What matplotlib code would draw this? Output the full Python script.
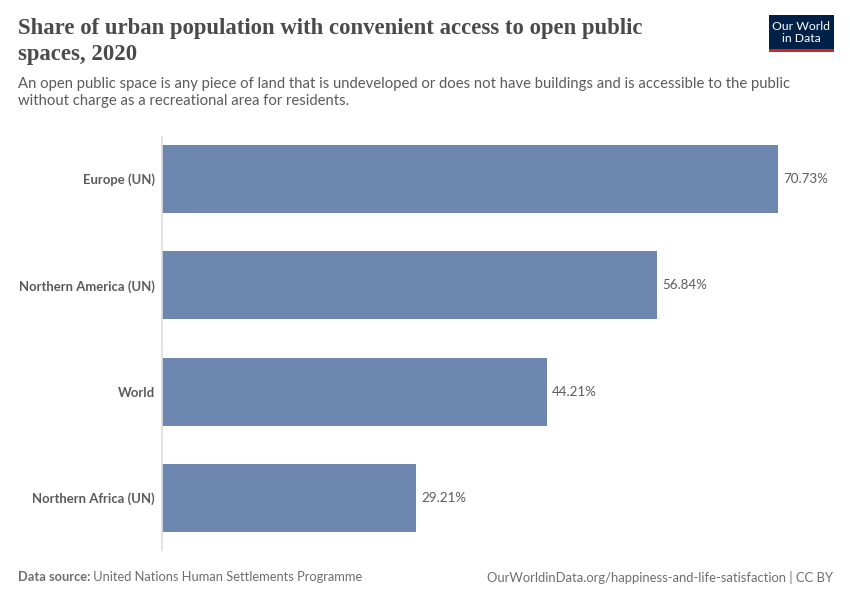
import matplotlib
matplotlib.use('Agg')
import matplotlib.pyplot as plt
from matplotlib.patches import Rectangle

# ---------------------------------------------------------------------------
# Data
# ---------------------------------------------------------------------------
regions = ['Europe (UN)', 'Northern America (UN)', 'World', 'Northern Africa (UN)']
shares = [70.73, 56.84, 44.21, 29.21]
value_labels = ['70.73%', '56.84%', '44.21%', '29.21%']

title = 'Share of urban population with convenient access to open public\nspaces, 2020'
subtitle = ('An open public space is any piece of land that is undeveloped or does not have buildings and is accessible to the public\n'
            'without charge as a recreational area for residents.')
source_bold = 'Data source:'
source_text = ' United Nations Human Settlements Programme'
credit = 'OurWorldinData.org/happiness-and-life-satisfaction | CC BY'

BAR = '#6d87b0'
TEXT = '#5b5b5b'
TITLE = '#4a4a4a'

W, H = 850, 600
fig = plt.figure(figsize=(W / 100, H / 100), dpi=100)
fig.patch.set_facecolor('white')

# axes placed in pixel coords: left 162, right 830, top 137, bottom 550
ax = fig.add_axes([162 / W, 1 - 550 / H, (830 - 162) / W, (550 - 137) / H])
ypos = list(range(len(regions)))
ax.barh(ypos, shares, height=0.64, color=BAR, zorder=2)
ax.set_xlim(0, (830 - 162) / 8.709)
ax.set_ylim(3.49, -0.395)
ax.set_yticks(ypos)
ax.set_yticklabels(regions, fontfamily='Lato', fontweight='bold', fontsize=9.45, color=TEXT)
ax.tick_params(axis='y', length=0, pad=5)
ax.set_xticks([])
for s in ['top', 'right', 'bottom']:
    ax.spines[s].set_visible(False)
ax.spines['left'].set_color('#dddddd')
ax.spines['left'].set_linewidth(1.2)

for y, v, lab in zip(ypos, shares, value_labels):
    ax.text(v + 0.55, y, lab, va='center', ha='left', fontfamily='Lato',
            fontsize=9.6, color=TEXT)

# titles
fig.text(18 / W, 1 - 18 / H, title, ha='left', va='top', fontfamily='Liberation Serif',
         fontweight='bold', fontsize=16.4, color=TITLE, linespacing=1.3)
fig.text(18 / W, 1 - 77 / H, subtitle, ha='left', va='top', fontfamily='Lato',
         fontsize=10.7, color=TEXT, linespacing=1.25)

# footer
t = fig.text(18 / W, 1 - 577 / H, source_bold, ha='left', va='center', fontfamily='Lato',
             fontweight='bold', fontsize=9.3, color='#6e6e6e')
fig.canvas.draw()
bb = t.get_window_extent()
fig.text(bb.x1 / W, 1 - 577 / H, source_text, ha='left', va='center', fontfamily='Lato',
         fontsize=9.3, color='#6e6e6e')
fig.text(833 / W, 1 - 577 / H, credit, ha='right', va='center', fontfamily='Lato',
         fontsize=9.4, color='#6e6e6e')

# logo
fig.patches.append(Rectangle((769 / W, 1 - 52 / H), 65 / W, 37 / H, transform=fig.transFigure,
                             facecolor='#002147', edgecolor='none'))
fig.patches.append(Rectangle((769 / W, 1 - 52 / H), 65 / W, 3 / H, transform=fig.transFigure,
                             facecolor='#ce261e', edgecolor='none'))
fig.text(801.5 / W, 1 - 32.5 / H, 'Our World\nin Data', ha='center', va='center', fontfamily='Lato',
         fontsize=8.8, color='white', linespacing=1.0)

fig.savefig('out.png', dpi=100, facecolor='white')
